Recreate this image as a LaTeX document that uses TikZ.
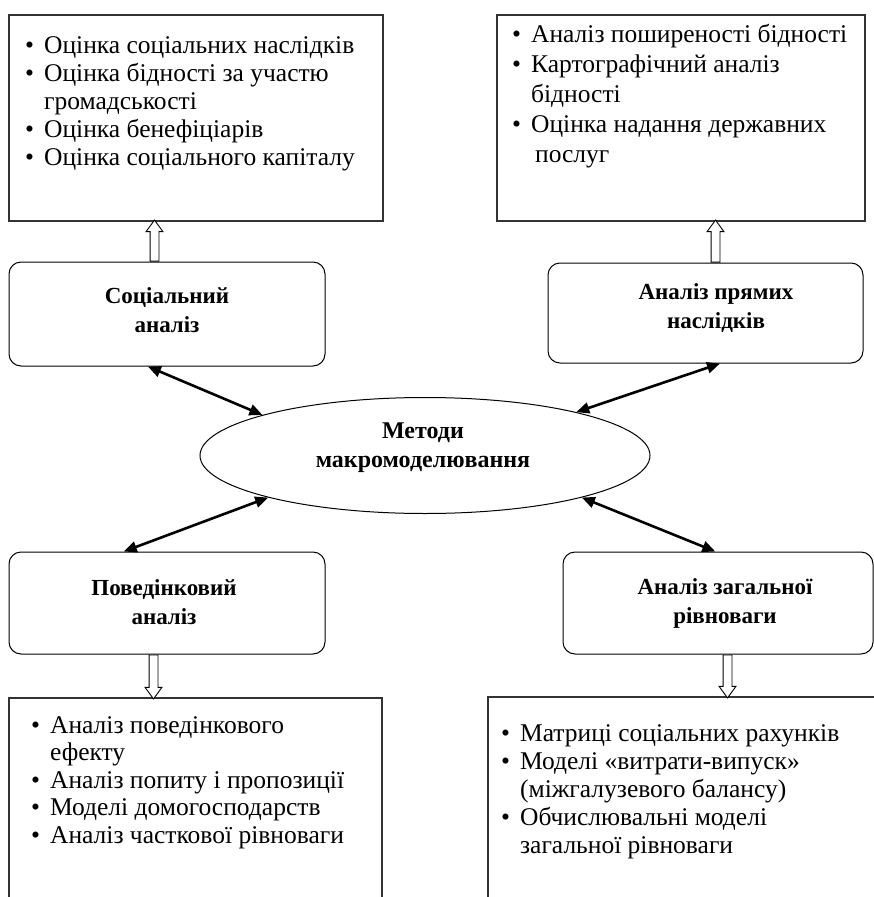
\documentclass[tikz,border=0pt]{standalone}
\usepackage{fontspec}
\setmainfont{Liberation Serif}
\usetikzlibrary{shapes.geometric,shapes.arrows,arrows.meta,calc}

\begin{document}
\begin{tikzpicture}[x=1pt,y=-1pt,
  listbox/.style={draw=black!80,line width=1.3pt,rectangle,inner sep=0pt},
  method/.style={draw,line width=1pt,rounded corners=12pt,rectangle,inner sep=0pt},
  methodtext/.style={font=\fontsize{23}{29}\selectfont\bfseries,align=center,inner sep=0pt},
  hub/.style={draw,ellipse,line width=1pt,minimum width=450pt,minimum height=116pt,inner sep=0pt},
  link/.style={line width=2.6pt,{Triangle[length=13pt,width=11pt]}-{Triangle[length=13pt,width=11pt]}},
  hollow/.style={draw,single arrow,fill=white,line width=0.9pt,inner sep=4pt,
    single arrow head extend=4pt,single arrow tip angle=72,single arrow head indent=0pt},
  listtext/.style={anchor=base west,inner sep=0pt}
]
\clip (0,0) rectangle (874,897);
\fill[white] (0,0) rectangle (874,897);

% outer boxes with the lists of methods
\node[listbox,minimum width=374pt,minimum height=206pt] (tl) at (196,118) {};
\node[listbox,minimum width=368pt,minimum height=206pt] (tr) at (681,118) {};
\node[listbox,minimum width=373pt,minimum height=262pt] (bl) at (195.5,829) {};
\node[listbox,minimum width=412pt,minimum height=262pt] (br) at (694,828) {};

% lists
\node[listtext,font=\fontsize{25.5}{28}\selectfont] (tltext) at (25,53) {%
  \begin{tabular}[t]{@{}l@{\hspace{10pt}}l@{}}
  \textbullet & Оцінка соціальних наслідків\\
  \textbullet & Оцінка бідності за участю\\
   & громадськості\\
  \textbullet & Оцінка бенефіціарів\\
  \textbullet & Оцінка соціального капіталу
  \end{tabular}};
\node[listtext,font=\fontsize{25.5}{30}\selectfont] (trtext) at (512,42) {%
  \begin{tabular}[t]{@{}l@{\hspace{10pt}}l@{}}
  \textbullet & Аналіз поширеності бідності\\
  \textbullet & Картографічний аналіз\\
   & бідності\\
  \textbullet & Оцінка надання державних\\
   & \hspace{4pt}послуг
  \end{tabular}};
\node[listtext,font=\fontsize{25.5}{27.5}\selectfont] (bltext) at (31,733) {%
  \begin{tabular}[t]{@{}l@{\hspace{10pt}}l@{}}
  \textbullet & Аналіз поведінкового\\
   & ефекту\\
  \textbullet & Аналіз попиту і пропозиції\\
  \textbullet & Моделі домогосподарств\\
  \textbullet & Аналіз часткової рівноваги
  \end{tabular}};
\node[listtext,font=\fontsize{25.5}{28}\selectfont] (brtext) at (501,741) {%
  \begin{tabular}[t]{@{}l@{\hspace{10pt}}l@{}}
  \textbullet & Матриці соціальних рахунків\\
  \textbullet & Моделі «витрати-випуск»\\
   & (міжгалузевого балансу)\\
  \textbullet & Обчислювальні моделі\\
   & загальної рівноваги
  \end{tabular}};

% analysis blocks
\node[method,minimum width=316pt,minimum height=104pt] (soc) at (167,314) {};
\node[method,minimum width=315pt,minimum height=100pt] (ana) at (705.5,313) {};
\node[method,minimum width=316pt,minimum height=102pt] (beh) at (167,603) {};
\node[method,minimum width=310pt,minimum height=102pt] (geq) at (718,603) {};
\node[methodtext] (soclabel) at (167,310.5) {Соціальний\\аналіз};
\node[methodtext] (analabel) at (716,308.5) {Аналіз прямих\\наслідків};
\node[methodtext] (behlabel) at (164,602.5) {Поведінковий\\аналіз};
\node[methodtext] (geqlabel) at (725,603) {Аналіз загальної\\рівноваги};

% central ellipse
\node[hub] (hub) at (425,455.5) {};
\node[methodtext,font=\fontsize{24}{29}\selectfont\bfseries] (hublabel) at (423,447.5) {Методи\\макромоделювання};

% two-way links
\draw[link] (soc.-110) -- (hub.166);
\draw[link] (ana.-74) -- (hub.16);
\draw[link] (beh.130) -- (hub.195);
\draw[link] (geq.93) -- (hub.-15);

% hollow arrows to the lists
\node[hollow,rotate=90,anchor=tail,minimum height=41pt] (upl) at ($(soc.north west)+(146,0)$) {};
\node[hollow,rotate=90,anchor=tail,minimum height=42pt] (upr) at ($(ana.north west)+(168,0)$) {};
\node[hollow,rotate=-90,anchor=tail,minimum height=44pt] (dnl) at ($(beh.south west)+(145,0)$) {};
\node[hollow,rotate=-90,anchor=tail,minimum height=43pt] (dnr) at ($(geq.south west)+(165,0)$) {};
\end{tikzpicture}
\end{document}
